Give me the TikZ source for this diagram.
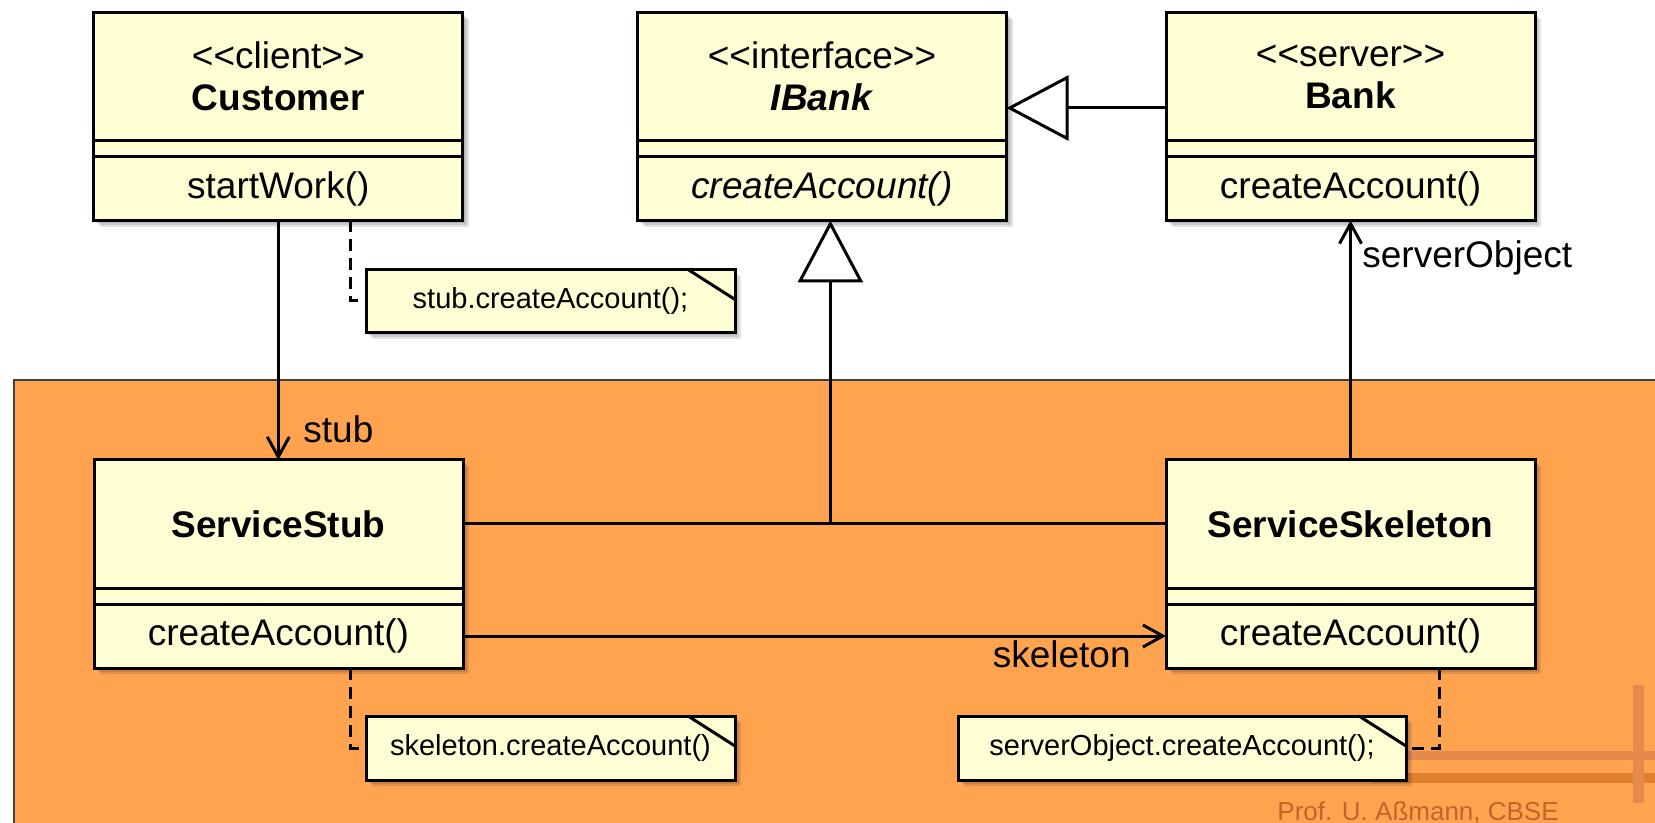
\documentclass[tikz,border=0pt]{standalone}
\usepackage{fontspec}
\setmainfont{Liberation Sans}
\usetikzlibrary{arrows.meta,backgrounds}
\definecolor{umlyellow}{HTML}{FFFDD3}
\definecolor{bgorange}{HTML}{FFA34F}
\definecolor{decolight}{HTML}{E5894F}
\definecolor{decodark}{HTML}{DF8030}
\definecolor{footercol}{HTML}{C0652B}
\newcommand\umlshadow[2]{%
  \foreach \s in {1.2,2.2,3.2}{%
    \fill[black, opacity=0.11] ([shift={(\s pt,-\s pt)}]#1.north west) rectangle ([shift={(\s pt,-\s pt)}]#2.south east);}}
\newcommand\stereo[1]{\mbox{<}\mbox{<}#1\mbox{>}\mbox{>}}
\begin{document}
\begin{tikzpicture}[x=0.5pt, y=-0.5pt,
  box/.style={draw, line width=1.5pt, fill=umlyellow, minimum width=184.5pt, inner sep=0pt, outer sep=0pt, font=\fontsize{18.5}{21}\selectfont, align=center},
  namepart/.style={box, minimum height=64pt},
  attrpart/.style={box, minimum height=8pt, anchor=north},
  opspart/.style={box, minimum height=32pt, anchor=north},
  notebox/.style={draw, line width=1.5pt, fill=umlyellow, inner sep=0pt, outer sep=0pt, minimum height=31.5pt, font=\fontsize{14.5}{17}\selectfont},
  conn/.style={line width=1.5pt},
  navarrow/.style={conn, -{Straight Barb[length=10pt, width=11pt]}},
  gen/.style={conn, -{Triangle[open, length=31pt, width=32.5pt, fill=white]}},
  notelink/.style={line width=1.5pt, dash pattern=on 6pt off 3.5pt},
  lbl/.style={font=\fontsize{18.5}{21}\selectfont, inner sep=0pt},
]
\useasboundingbox (0,0) rectangle (1655,823);
\begin{scope}[on background layer]
  \fill[bgorange] (14,380) rectangle (1670,840);
  \draw[line width=0.75pt, black!75] (1670,380) -- (14,380) -- (14,840);
  \draw[decolight, line width=4.5pt] (1400,755) -- (1670,755);
  \draw[decodark, line width=5pt] (1372,778) -- (1670,778);
  \draw[decolight, line width=5.5pt] (1638,685) -- (1638,803);
\end{scope}

% classes (top row)
\node[namepart] (custN) at (278.3,76.5) {\stereo{client}\\\textbf{Customer}};
\node[attrpart] (custA) at (custN.south) {};
\node[opspart] (custO) at (custA.south) {startWork()};

\node[namepart] (ibankN) at (822,76.5) {\stereo{interface}\\\textbf{\textit{IBank}}};
\node[attrpart] (ibankA) at (ibankN.south) {};
\node[opspart] (ibankO) at (ibankA.south) {\textit{createAccount()}};

\node[namepart] (bankN) at (1350.5,76.5) {\stereo{server}\\\textbf{Bank}};
\node[attrpart] (bankA) at (bankN.south) {};
\node[opspart] (bankO) at (bankA.south) {createAccount()};

% classes (bottom row)
\node[namepart] (stubN) at (278.5,524) {\textbf{ServiceStub}};
\node[attrpart] (stubA) at (stubN.south) {};
\node[opspart] (stubO) at (stubA.south) {createAccount()};

\node[namepart] (skelN) at (1350.5,524) {\textbf{ServiceSkeleton}};
\node[attrpart] (skelA) at (skelN.south) {};
\node[opspart] (skelO) at (skelA.south) {createAccount()};

% notes
\node[notebox, minimum width=184.5pt] (n1) at (550.5,301) {stub.createAccount();};
\node[notebox, minimum width=184.5pt, minimum height=32pt] (n2) at (550.5,748) {skeleton.createAccount()};
\node[notebox, minimum width=224pt, minimum height=32pt] (n3) at (1182,748) {serverObject.createAccount();};
\foreach \n in {n1,n2,n3}{
  \draw[conn] ([xshift=-23.5pt]\n.north east) -- ([yshift=-15pt]\n.north east);
}

\begin{scope}[on background layer]
  \umlshadow{custN}{custO}
  \umlshadow{ibankN}{ibankO}
  \umlshadow{bankN}{bankO}
  \umlshadow{stubN}{stubO}
  \umlshadow{skelN}{skelO}
  \umlshadow{n1}{n1}
  \umlshadow{n2}{n2}
  \umlshadow{n3}{n3}
\end{scope}

% connectors
\draw[gen] ([yshift=-15.75pt]bankN.west) -- ([yshift=-15.75pt]ibankN.east);
\coordinate (jn) at (830.4,524);
\draw[conn] (stubN.east) -- (skelN.west);
\draw[gen] (jn) -- (jn |- ibankO.south);
\draw[navarrow] (custO.south) -- (custO.south |- stubN.north);
\draw[navarrow] (skelN.north) -- (skelN.north |- bankO.south);
\draw[navarrow] (stubO.east) -- (skelO.west);
\draw[notelink] ([xshift=36pt]custO.south) |- (n1.west);
\draw[notelink] ([xshift=36pt]stubO.south) |- (n2.west);
\draw[notelink] ([xshift=44.25pt]skelO.south) |- (n3.east);

% labels
\node[lbl, anchor=base west] (lstub) at (303,443) {stub};
\node[lbl, anchor=base west] (lserver) at (1362,268) {serverObject};
\node[lbl, anchor=base east] (lskel) at (1131,667) {skeleton};
\node[anchor=base west, inner sep=0pt, font=\fontsize{13}{15}\selectfont, text=footercol] (footer) at (1277,820) {Prof. U. Aßmann, CBSE};
\end{tikzpicture}
\end{document}
